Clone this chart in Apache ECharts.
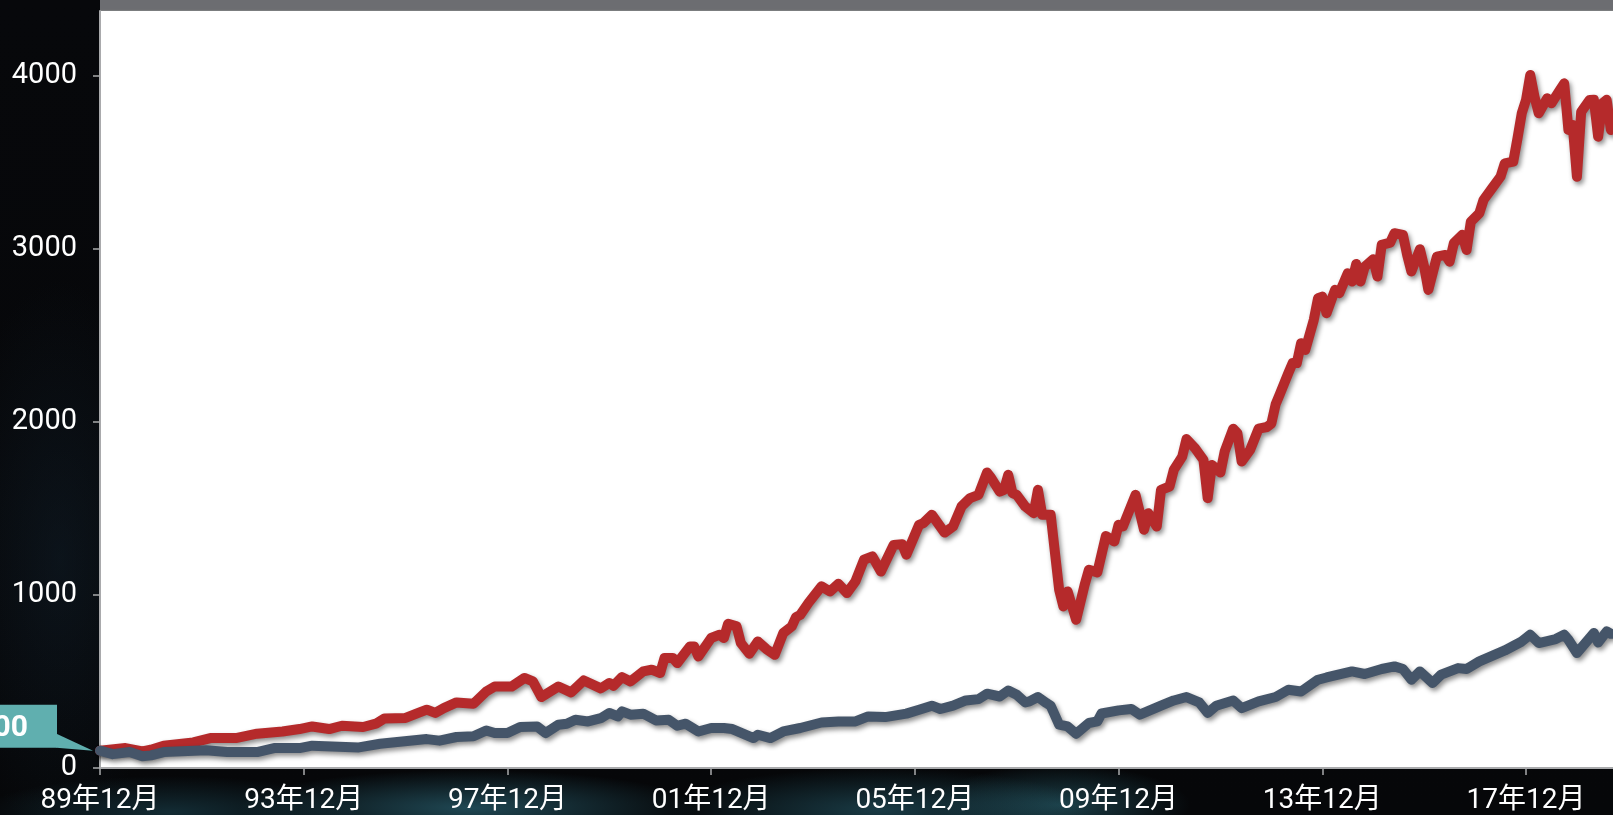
<!DOCTYPE html>
<html>
<head>
<meta charset="utf-8">
<script src="https://cdn.jsdelivr.net/npm/echarts@6/dist/echarts.min.js"></script>
<style>
  html, body { margin: 0; padding: 0; width: 1613px; height: 815px; overflow: hidden; }
  body {
    background:
      radial-gradient(ellipse 230px 38px at 470px 808px, rgba(52,125,145,0.55), rgba(52,125,145,0) 100%),
      radial-gradient(ellipse 210px 42px at 880px 810px, rgba(44,110,128,0.5), rgba(44,110,128,0) 100%),
      radial-gradient(ellipse 130px 40px at 1060px 805px, rgba(48,118,134,0.5), rgba(48,118,134,0) 100%),
      radial-gradient(ellipse 190px 36px at 170px 812px, rgba(34,88,104,0.45), rgba(34,88,104,0) 100%),
      radial-gradient(ellipse 110px 280px at 60px 560px, rgba(22,42,58,0.35), rgba(22,42,58,0) 100%),
      linear-gradient(#07080b, #060709);
  }
  #chart { width: 1613px; height: 815px; }
</style>
</head>
<body>
<div id="chart"></div>
<script>
// Index levels, base 100 at Dec 1989. Months are counted from Dec 1989 (0 = 1989-12).
const redMonths = [0, 6, 10, 12, 15, 22, 26, 32, 37, 43, 47, 50, 54, 57, 62, 65, 67, 72, 75, 77, 79, 81, 84, 88, 91, 93, 97, 100, 102, 104, 108, 111, 114, 118, 120, 121, 123, 125, 128, 130, 132, 133, 135, 136, 139, 140, 141, 144, 146, 147, 148, 150, 151, 153, 155, 157, 159, 161, 163, 164, 165, 167, 170, 172, 174, 176, 178, 180, 182, 184, 187, 189, 190, 193, 194, 196, 199, 201, 203, 205, 207, 209, 210, 212, 213, 214, 215, 216, 218, 220, 221, 222, 224, 226, 227, 228, 230, 232, 233, 235, 237, 239, 240, 241, 244, 246, 247, 249, 250, 252, 253, 255, 256, 258, 260, 261, 262, 264, 265, 267, 268, 269, 271, 273, 275, 276, 277, 278, 280, 281, 282, 283, 284, 286, 287, 288, 289, 291, 292, 294, 295, 296, 297, 298, 300, 301, 302, 304, 305, 307, 308, 309, 311, 312, 313, 315, 317, 318, 319, 321, 322, 323, 325, 326, 328, 330, 331, 333, 334, 335, 336, 337, 338, 339, 341, 342, 344, 345, 346, 347, 348, 349, 351, 352, 353, 354, 355, 356];
const redValues = [100, 115, 96, 106, 129, 148, 173, 173, 198, 211, 225, 240, 225, 244, 237, 256, 286, 289, 318, 337, 318, 346, 379, 371, 442, 471, 471, 520, 500, 410, 471, 437, 506, 460, 491, 475, 525, 500, 558, 568, 549, 635, 635, 606, 702, 702, 644, 751, 770, 751, 833, 818, 722, 660, 731, 687, 654, 780, 818, 872, 885, 956, 1049, 1020, 1064, 1011, 1078, 1203, 1222, 1135, 1289, 1293, 1232, 1405, 1415, 1463, 1360, 1395, 1511, 1559, 1578, 1707, 1675, 1597, 1607, 1694, 1588, 1578, 1511, 1472, 1607, 1463, 1463, 1030, 933, 1020, 856, 1058, 1145, 1130, 1340, 1309, 1405, 1395, 1578, 1376, 1472, 1395, 1607, 1626, 1722, 1799, 1900, 1848, 1780, 1559, 1751, 1707, 1828, 1960, 1934, 1770, 1838, 1960, 1970, 1990, 2100, 2160, 2281, 2339, 2339, 2454, 2415, 2589, 2714, 2723, 2627, 2762, 2743, 2858, 2810, 2912, 2810, 2896, 2939, 2839, 3022, 3035, 3089, 3080, 2964, 2868, 2997, 2896, 2762, 2954, 2964, 2925, 3032, 3080, 2993, 3156, 3205, 3282, 3349, 3416, 3493, 3503, 3638, 3782, 3859, 4003, 3878, 3782, 3869, 3840, 3917, 3955, 3686, 3715, 3416, 3790, 3859, 3860, 3647, 3840, 3860, 3686];

const navyMonths = [0, 3, 7, 10, 12, 15, 25, 30, 37, 41, 47, 50, 61, 66, 77, 80, 84, 88, 91, 93, 96, 99, 103, 105, 108, 110, 112, 115, 118, 120, 122, 123, 125, 128, 131, 134, 136, 138, 141, 144, 147, 149, 154, 155, 158, 161, 165, 170, 174, 178, 181, 185, 190, 193, 196, 198, 201, 204, 207, 209, 212, 214, 216, 218, 219, 221, 223, 224, 226, 228, 230, 233, 235, 236, 240, 243, 245, 250, 253, 256, 259, 261, 263, 267, 269, 273, 277, 280, 283, 287, 289, 295, 298, 302, 305, 307, 309, 311, 314, 316, 320, 322, 325, 331, 335, 337, 339, 343, 345, 346, 348, 350, 352, 353, 355, 356];
const navyValues = [100, 80, 92, 68, 73, 92, 102, 92, 92, 115, 115, 129, 119, 140, 167, 158, 179, 183, 217, 202, 202, 237, 240, 202, 250, 256, 279, 269, 288, 318, 298, 327, 308, 314, 275, 279, 244, 256, 211, 231, 231, 225, 173, 192, 173, 211, 231, 263, 269, 269, 298, 294, 314, 337, 360, 341, 360, 390, 398, 429, 413, 448, 423, 379, 385, 410, 375, 360, 250, 240, 198, 260, 269, 315, 333, 341, 308, 360, 390, 410, 379, 318, 360, 390, 346, 385, 410, 452, 442, 510, 523, 558, 543, 572, 587, 572, 510, 558, 491, 539, 577, 572, 616, 679, 731, 770, 722, 745, 770, 741, 664, 722, 780, 725, 789, 775];

// Axis ticks and their labels
const xTickMonths = [0, 48, 96, 144, 192, 240, 288, 336];
const xTickLabels = ['89年12月', '93年12月', '97年12月', '01年12月', '05年12月', '09年12月', '13年12月', '17年12月'];
const yTicks = [0, 1000, 2000, 3000, 4000];

const pair = (ms, vs) => ms.map((m, i) => [m, vs[i]]);
const FONT = 'Roboto, "Noto Sans CJK SC", sans-serif';
const AXIS_GREY = '#a9aaac';

const chart = echarts.init(document.getElementById('chart'), null, { renderer: 'canvas' });

const lineShadow = {
  shadowColor: 'rgba(0,0,0,0.45)',
  shadowBlur: 5,
  shadowOffsetX: 2,
  shadowOffsetY: 3
};

chart.setOption({
  animation: false,
  backgroundColor: 'transparent',
  grid: {
    left: 100, right: 0, top: 11, bottom: 46.7,
    show: true, backgroundColor: '#ffffff', borderWidth: 0
  },
  xAxis: {
    type: 'value',
    min: 0, max: 356.5,
    interval: 48,
    axisLine: { show: true, lineStyle: { color: AXIS_GREY, width: 2 } },
    axisTick: { show: true, length: 7, customValues: xTickMonths, lineStyle: { color: AXIS_GREY, width: 1.5 } },
    axisLabel: {
      customValues: xTickMonths,
      formatter: v => xTickLabels[xTickMonths.indexOf(v)] || '',
      color: '#ffffff', fontSize: 28, fontFamily: FONT, margin: 19
    },
    splitLine: { show: false }
  },
  yAxis: {
    type: 'value',
    min: 0, max: 4373,
    interval: 1000,
    axisLine: { show: true, lineStyle: { color: AXIS_GREY, width: 2 } },
    axisTick: { show: true, length: 7, customValues: yTicks, lineStyle: { color: AXIS_GREY, width: 1.5 } },
    axisLabel: {
      customValues: yTicks,
      formatter: v => String(v),
      color: '#ffffff', fontSize: 29, fontFamily: FONT, margin: 23
    },
    splitLine: { show: false }
  },
  series: [
    {
      type: 'line', name: 'red', data: pair(redMonths, redValues),
      showSymbol: false, symbol: 'none', z: 3,
      lineStyle: Object.assign({ color: '#b52a2b', width: 10, join: 'round', cap: 'round' }, lineShadow)
    },
    {
      type: 'line', name: 'navy', data: pair(navyMonths, navyValues),
      showSymbol: false, symbol: 'none', z: 4,
      lineStyle: Object.assign({ color: '#455569', width: 10, join: 'round', cap: 'round' }, lineShadow)
    }
  ]
});

// Header strip above the plot and the base-value callout at the start of both lines
const base = chart.convertToPixel({ gridIndex: 0 }, [redMonths[0], redValues[0]]);
const bx = base[0], by = base[1];
chart.setOption({
  graphic: [
    { type: 'rect', z: 10, shape: { x: bx, y: 0, width: 1613 - bx, height: 9.5 }, style: { fill: '#6c6d71' } },
    { type: 'rect', z: 10, shape: { x: bx, y: 9.5, width: 1613 - bx, height: 1.3 }, style: { fill: '#a3a4a7' } },
    { type: 'rect', z: 10, shape: { x: -60, y: by - 46, width: bx - 43 + 60, height: 43 }, style: { fill: '#60afaf' } },
    { type: 'polygon', z: 10, shape: { points: [[bx - 43.5, by - 17], [bx - 43.5, by - 3], [bx - 7, by]] }, style: { fill: '#60afaf' } },
    {
      type: 'text', z: 11, x: bx - 72, y: by - 22,
      style: {
        text: String(redValues[0]), fill: '#ffffff', font: 'bold 30px ' + FONT,
        align: 'right', verticalAlign: 'middle'
      }
    }
  ]
});
</script>
</body>
</html>
